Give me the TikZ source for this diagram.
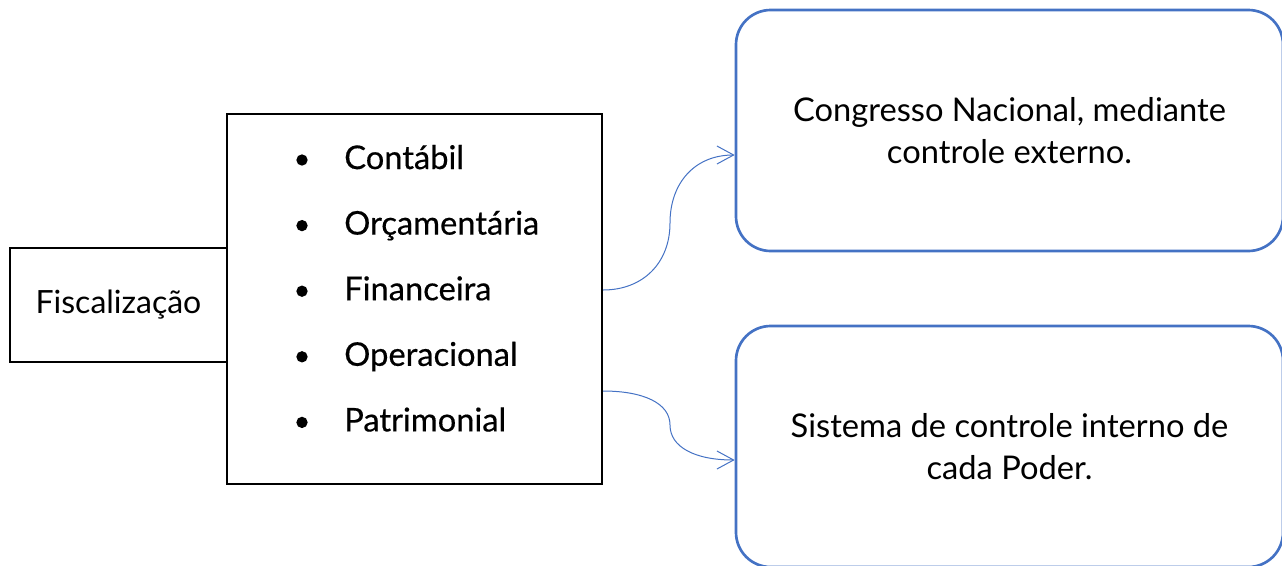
\documentclass[tikz,border=0pt]{standalone}
\usepackage{fontspec}
\setmainfont{Lato}
\newfontfamily\itemfont[FakeBold=0.5]{Lato}
\usetikzlibrary{arrows.meta,calc,positioning}
\definecolor{azul}{RGB}{68,114,196}

\begin{document}
\begin{tikzpicture}[x=0.75pt,y=0.75pt,yscale=-1,xscale=1,
	caixa/.style={draw, line width=1.5pt, rectangle, fill=white, inner sep=0pt},
	redonda/.style={draw=azul, line width=2pt, rounded corners=26pt, minimum width=410.25pt, minimum height=180.75pt, align=center, font=\fontsize{24.5}{31.5}\selectfont},
	bala/.style={circle, fill=black, inner sep=0pt, minimum size=8.5pt},
	item/.style={anchor=base west, inner sep=0pt, font=\fontsize{24.5}{28}\itemfont},
	ligacao/.style={draw=azul, line width=0.75pt, -{Straight Barb[length=12.5pt,width=13.5pt]}}]
		\path[use as bounding box] (0,0) rectangle (1282,565); %set diagram size
		
		%Shape: Rectangle [fiscalizacao]
		\node[caixa, minimum width=162.75pt, minimum height=85.5pt, font=\fontsize{24}{28}\selectfont] (fisc) at (118.5,305) {Fiscalização};
		%Shape: Rectangle [lista]
		\node[caixa, minimum width=281.25pt, minimum height=277.5pt] (lista) at (414.5,299) {};
		
		% Bullets
		\node[bala] (b1) at (302,160) {};
		\node[bala] (b2) at (302,225.6) {};
		\node[bala] (b3) at (302,291.2) {};
		\node[bala] (b4) at (302,356.8) {};
		\node[bala] (b5) at (302,422.4) {};
		% Text Node
		\node[item] (contabil) at (344,169) {Contábil};
		% Text Node
		\node[item] (orcamentaria) at (344,234.6) {Orçamentária};
		% Text Node
		\node[item] (financeira) at (344,300.2) {Financeira};
		% Text Node
		\node[item] (operacional) at (344,365.8) {Operacional};
		% Text Node
		\node[item] (patrimonial) at (344,431.4) {Patrimonial};
		
		%Rounded Rect [congresso]
		\node[redonda] (congresso) at (1009.5,130.5) {Congresso Nacional, mediante\\controle externo.};
		%Rounded Rect [interno]
		\node[redonda] (interno) at (1009.5,446.5) {Sistema de controle interno de\\cada Poder.};
		
		%Curve Lines
		\draw[ligacao] ($(lista.east)+(0,-9)$) .. controls +(40,0) and +(0,40) .. ++(67,-67) .. controls +(0,-40) and +(-40,0) .. ($(congresso.west)+(0,24.5)$);
		%Curve Lines
		\draw[ligacao] ($(lista.east)+(0,92)$) .. controls +(40,0) and +(0,-22) .. ++(67,34) .. controls +(0,22) and +(-40,0) .. ($(interno.west)+(0,13.5)$);
		
\end{tikzpicture}
\end{document}
